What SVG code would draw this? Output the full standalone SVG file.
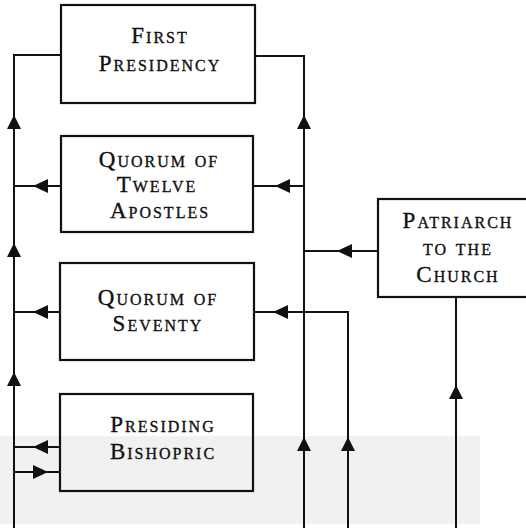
<svg xmlns="http://www.w3.org/2000/svg" width="526" height="531" viewBox="0 0 526 531">
  <style>
    .box { fill: none; stroke: #111; stroke-width: 2.2; }
    .ln { fill: none; stroke: #111; stroke-width: 2; }
    .ah { fill: #111; }
    text { font-family: "Liberation Serif", "Times New Roman", serif; font-size: 23px; font-variant: small-caps; fill: #111; stroke: #111; stroke-width: 0.35; text-anchor: middle; letter-spacing: 2px; }
  </style>
  <defs>
    <path id="up" d="M0,0 L-7,14 L7,14 Z"/>
    <path id="left" d="M0,0 L15,-7 L15,7 Z"/>
    <path id="right" d="M0,0 L-15,-7 L-15,7 Z"/>
  </defs>
  <rect x="0" y="436" width="480" height="88" fill="#f1f1f1"/>

  <g id="connectors">
    <path class="ln" d="M61,55 H14 V528"/>
    <path class="ln" d="M255,56 H304 V528"/>
    <path class="ln" d="M14,186 H61"/>
    <path class="ln" d="M253,186 H304"/>
    <path class="ln" d="M14,312 H60"/>
    <path class="ln" d="M254,312 H348 V528"/>
    <path class="ln" d="M304,251 H378"/>
    <path class="ln" d="M14,447 H60"/>
    <path class="ln" d="M14,472 H60"/>
    <path class="ln" d="M456,297 V528"/>
    <use href="#up" class="ah" x="14" y="115"/>
    <use href="#up" class="ah" x="14" y="243"/>
    <use href="#up" class="ah" x="14" y="372"/>
    <use href="#up" class="ah" x="304" y="115"/>
    <use href="#up" class="ah" x="304" y="437"/>
    <use href="#up" class="ah" x="348" y="437"/>
    <use href="#up" class="ah" x="456" y="385"/>
    <use href="#left" class="ah" x="33" y="186"/>
    <use href="#left" class="ah" x="33" y="312"/>
    <use href="#left" class="ah" x="33" y="447"/>
    <use href="#right" class="ah" x="48" y="472"/>
    <use href="#left" class="ah" x="275" y="186"/>
    <use href="#left" class="ah" x="273" y="312"/>
    <use href="#left" class="ah" x="337" y="251"/>
  </g>

  <g id="first-presidency">
    <rect class="box" x="61" y="5" width="194" height="98"/>
    <text x="160" y="43">First</text>
    <text x="160" y="71">Presidency</text>
  </g>
  <g id="twelve-apostles">
    <rect class="box" x="61" y="136" width="192" height="96"/>
    <text x="159" y="167">Quorum of</text>
    <text x="157" y="192">Twelve</text>
    <text x="160" y="218">Apostles</text>
  </g>
  <g id="seventy">
    <rect class="box" x="60" y="263" width="194" height="97"/>
    <text x="158" y="305">Quorum of</text>
    <text x="158" y="331">Seventy</text>
  </g>
  <g id="presiding-bishopric">
    <rect class="box" x="60" y="394" width="193" height="97"/>
    <text x="163" y="432">Presiding</text>
    <text x="163" y="459">Bishopric</text>
  </g>
  <g id="patriarch">
    <rect class="box" x="378" y="199" width="160" height="98"/>
    <text x="458" y="228">Patriarch</text>
    <text x="458" y="255">to the</text>
    <text x="458" y="282">Church</text>
  </g>
</svg>
